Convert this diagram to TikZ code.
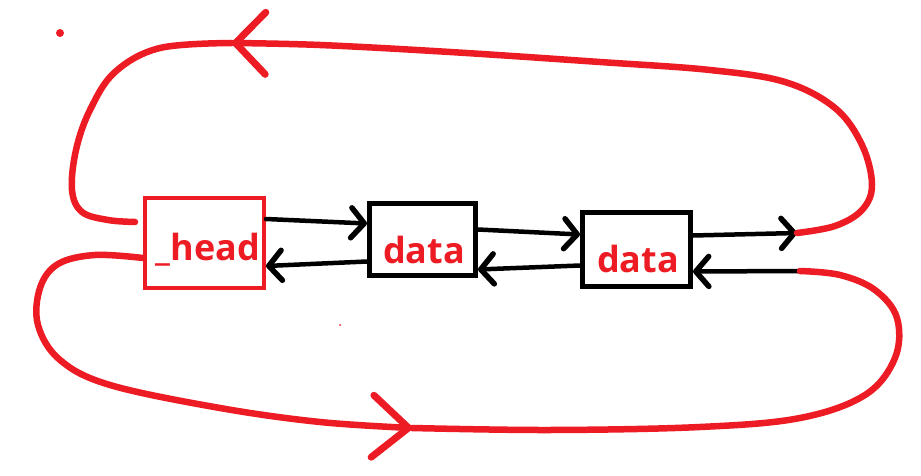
\documentclass[tikz,border=0pt]{standalone}
\usepackage{fontspec}
\setmainfont{Open Sans}
\usetikzlibrary{arrows.meta,calc}
\definecolor{pred}{HTML}{ED1C24}
\begin{document}
\begin{tikzpicture}[x=1pt,y=-1pt,
  headbox/.style={draw=pred, line width=4pt, inner sep=0pt, minimum width=119pt, minimum height=90pt},
  databox/.style={draw=black, line width=5pt, inner sep=0pt},
  lbl/.style={text=pred, font=\bfseries\fontsize{36}{40}\selectfont, inner sep=0pt, anchor=base},
  blk/.style={draw=black, line width=4.5pt, line cap=round, -{Straight Barb[round, length=13pt, width=30pt, line width=5.5pt]}},
  redline/.style={draw=pred, line width=6.5pt, line cap=round, line join=round},
  redtip/.style={-{Straight Barb[round, length=#1, width=62pt, line width=7pt]}}]
\useasboundingbox[fill=white] (0,0) rectangle (921,476);
% boxes
\node[headbox] (head) at (204.5,243) {};
\node[databox, minimum width=106pt, minimum height=72pt] (d1) at (422.5,239.5) {};
\node[databox, minimum width=108pt, minimum height=74pt] (d2) at (636.5,249.5) {};
\node[lbl] (th) at (208,260) {\_head};
\node[lbl] (t1) at (424,263) {data};
\node[lbl] (t2) at (638,272) {data};
% free ends
\coordinate (r1) at (797,233);
\coordinate (r2) at (800,271);
\coordinate (ta) at (232,43);
\coordinate (ba) at (412,428);
% black arrows
\draw[blk] ([yshift=24pt]head.east) -- ([yshift=16pt]d1.west);
\draw[blk] ([yshift=-22pt]d1.west) -- ([yshift=-23pt]head.east);
\draw[blk] ([yshift=10pt]d1.east) -- ([yshift=15pt]d2.west);
\draw[blk] ([yshift=-16pt]d2.west) -- ([yshift=-30pt]d1.east);
\draw[blk] ([yshift=14pt]d2.east) -- (r1);
\draw[blk] (r2) -- ([yshift=-22pt]d2.east);
% red loops
\draw[redline, redtip=30pt] plot[smooth, tension=0.6] coordinates {(r1) (835,226) (862,210) (872,185) (862,145) (835,108) (785,82) (710,70) (600,62) (450,52) (320,45) (ta)};
\draw[redline] plot[smooth, tension=0.6] coordinates {(ta) (160,48) (115,72) (90,110) (76,150) (72,190) (82,212) (108,220) ([xshift=-8pt,yshift=21pt]head.west)};
\draw[redline, redtip=36pt] plot[smooth, tension=0.6] coordinates {([yshift=-15pt]head.west) (95,255) (58,264) (40,288) (38,325) (60,360) (110,385) (220,408) (320,422) (ba)};
\draw[redline] plot[smooth, tension=0.6] coordinates {(ba) (550,430) (700,427) (800,418) (865,395) (895,358) (897,318) (875,290) (840,275) (r2)};
% stray dots
\fill[pred] (60,33) circle (4pt);
\fill[pred] (340,325) circle (1pt);
\end{tikzpicture}
\end{document}
